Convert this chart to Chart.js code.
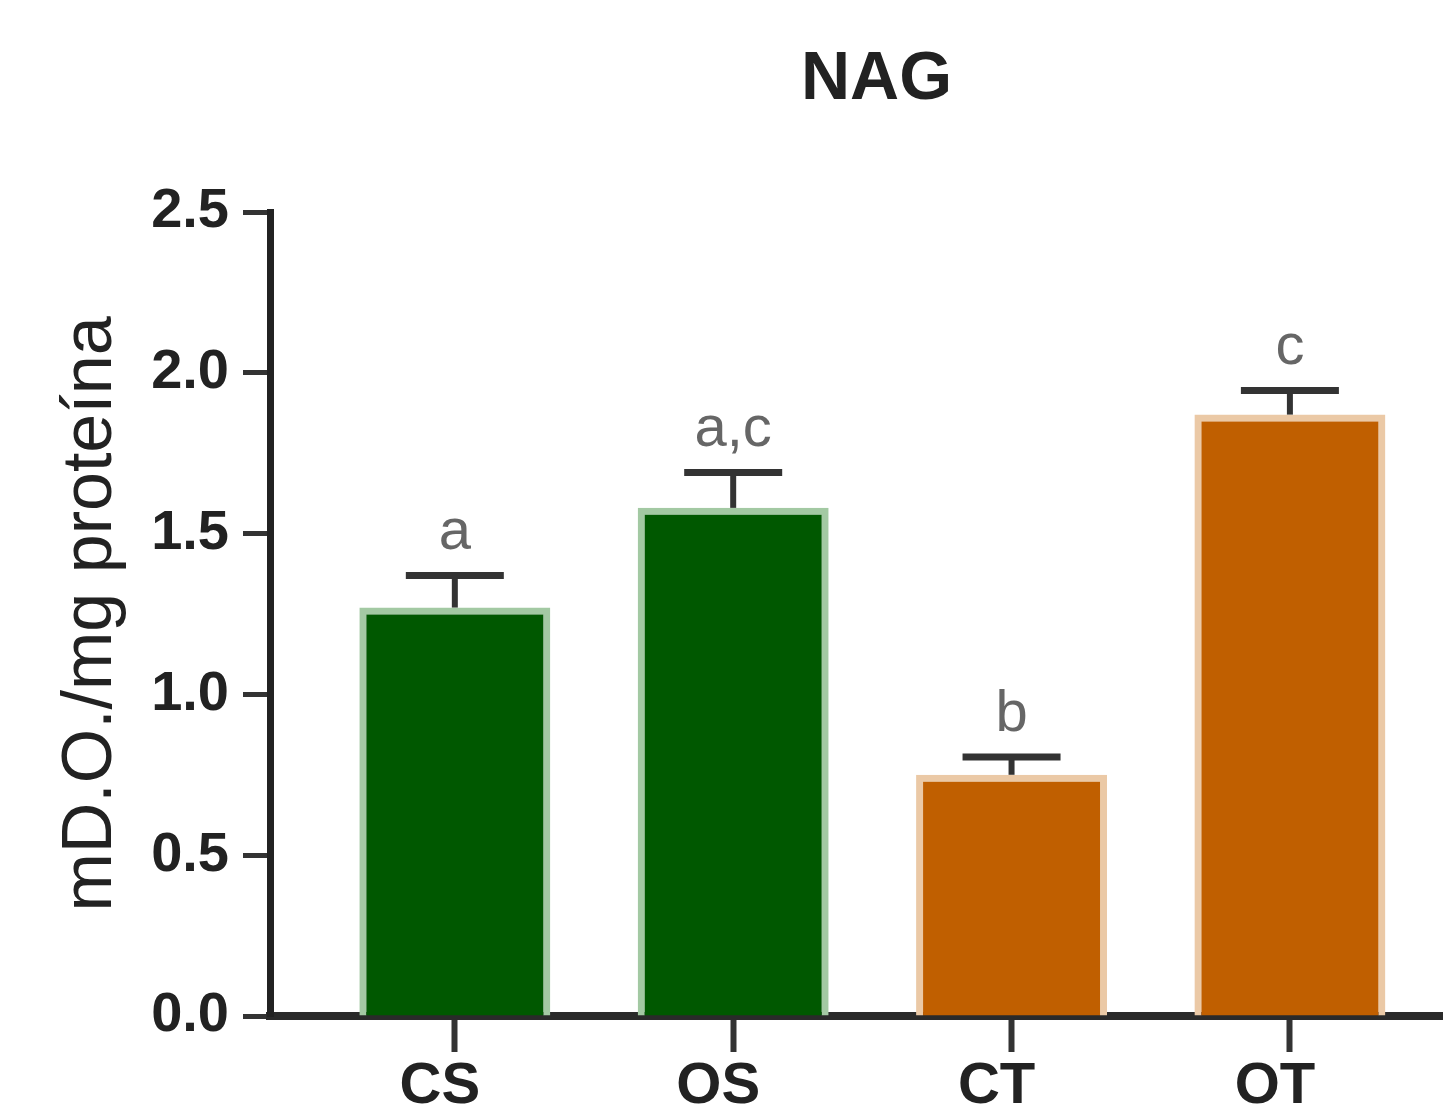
<!DOCTYPE html>
<html>
<head>
<meta charset="utf-8">
<script src="https://cdn.jsdelivr.net/npm/chart.js@4"></script>
<style>
  html, body { margin: 0; padding: 0; background: #fff; }
  #wrap { width: 1443px; height: 1108px; }
</style>
</head>
<body>
<div id="wrap"><canvas id="nag"></canvas></div>
<script>
// data
const groups = ['CS', 'OS', 'CT', 'OT']
const means = [1.27, 1.58, 0.75, 1.87]
const errors = [0.10, 0.11, 0.055, 0.075]
const letters = ['a', 'a,c', 'b', 'c']
const yTicks = [0, 0.5, 1.0, 1.5, 2.0, 2.5]

const fills = ['#005800', '#005800', '#c05f00', '#c05f00']
const edges = ['#a3c9a3', '#a3c9a3', '#ebc9a6', '#ebc9a6']

const font = 'Liberation Sans'

// error bars + significance letters
const errorBars = {
  id: 'errorBars',
  afterDatasetsDraw(chart) {
    const c = chart.ctx
    const ys = chart.scales.y
    const meta = chart.getDatasetMeta(0)
    meta.data.forEach((bar, i) => {
      const top = ys.getPixelForValue(means[i])
      const cap = ys.getPixelForValue(means[i] + errors[i])
      c.save()
      c.strokeStyle = '#333'
      c.lineWidth = 6
      c.beginPath()
      c.moveTo(bar.x, top)
      c.lineTo(bar.x, cap)
      c.stroke()
      c.lineWidth = 7
      c.beginPath()
      c.moveTo(bar.x - 49, cap)
      c.lineTo(bar.x + 49, cap)
      c.stroke()
      c.fillStyle = '#666'
      c.font = '58px "' + font + '"'
      c.textAlign = 'center'
      c.textBaseline = 'alphabetic'
      c.fillText(letters[i], bar.x, cap - 26)
      c.restore()
    })
  }
}

const chartTitle = {
  id: 'chartTitle',
  afterDraw(chart) {
    const c = chart.ctx
    const a = chart.chartArea
    c.save()
    c.fillStyle = '#222'
    c.font = 'bold 68px "' + font + '"'
    c.textAlign = 'center'
    c.textBaseline = 'middle'
    c.fillText('NAG', (a.left + a.right) / 2 + 20, 80)
    c.restore()
  }
}

const ctx = document.getElementById('nag')

const myChart = new Chart(ctx, {
  type: 'bar',
  data: {
    datasets: [{
      data: groups.map((g, i) => ({ x: i, y: means[i] })),
      backgroundColor: fills,
      borderColor: edges,
      borderWidth: 7,
      borderSkipped: 'start',
      barPercentage: 0.686,
      categoryPercentage: 1
    }]
  },
  options: {
    responsive: true,
    maintainAspectRatio: false,
    animation: false,
    layout: { padding: { top: 212, left: 0, right: 0, bottom: 0 } },
    plugins: {
      legend: { display: false },
      tooltip: { enabled: false }
    },
    scales: {
      x: {
        type: 'linear',
        offset: false,
        min: -0.664,
        max: 3.55,
        afterBuildTicks: (s) => { s.ticks = groups.map((g, i) => ({ value: i })) },
        afterFit: (s) => { s.height = 92 },
        ticks: {
          callback: (v) => groups[v],
          color: '#222',
          font: { family: font, size: 58, weight: 'bold' },
          padding: 0,
          labelOffset: -15,
          autoSkip: false,
          maxRotation: 0
        },
        grid: {
          offset: false,
          drawOnChartArea: false,
          tickLength: 36,
          tickWidth: 6,
          tickColor: '#333'
        },
        border: { color: '#2a2a2a', width: 8 }
      },
      y: {
        min: 0,
        max: 2.5,
        afterBuildTicks: (s) => { s.ticks = yTicks.map(v => ({ value: v })) },
        afterFit: (s) => { s.width = 270 },
        ticks: {
          callback: (v) => v.toFixed(1),
          color: '#222',
          font: { family: font, size: 56, weight: 'bold' },
          padding: 14
        },
        grid: {
          drawOnChartArea: false,
          tickLength: 27,
          tickWidth: 5,
          tickColor: '#333'
        },
        border: { color: '#222', width: 7 },
        title: {
          display: true,
          text: 'mD.O./mg proteína',
          color: '#222',
          font: { family: font, size: 70 },
          padding: { top: 50, bottom: 0 }
        }
      }
    }
  },
  plugins: [errorBars, chartTitle]
})
</script>
</body>
</html>
